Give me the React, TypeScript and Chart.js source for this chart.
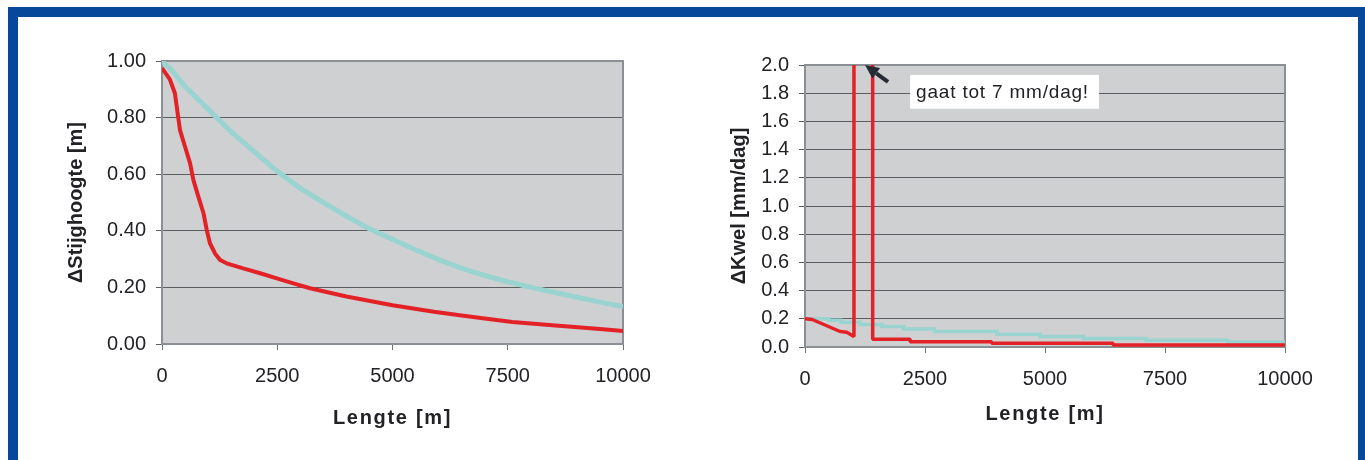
import React, { useEffect, useRef } from "react";
import { Chart, registerables } from "chart.js";

Chart.register(...registerables);

// ---------- data ----------
const xTickValues = [0, 2500, 5000, 7500, 10000];
const leftYTickValues = [0, 0.2, 0.4, 0.6, 0.8, 1.0];
const rightYTickValues = [0, 0.2, 0.4, 0.6, 0.8, 1.0, 1.2, 1.4, 1.6, 1.8, 2.0];

// left chart: ΔStijghoogte [m]
const leftCyanLength = [0, 250, 500, 750, 1000, 1250, 1500, 2000, 2500, 3000, 3500, 4000, 4500, 5000, 5500, 6000, 6500, 7000, 7500, 8000, 8500, 9000, 9500, 10000];
const leftCyanHead = [1.0, 0.96, 0.91, 0.87, 0.83, 0.79, 0.75, 0.68, 0.61, 0.55, 0.5, 0.452, 0.407, 0.37, 0.333, 0.298, 0.267, 0.242, 0.22, 0.2, 0.183, 0.165, 0.148, 0.132];
const leftRedLength = [0, 170, 280, 350, 390, 500, 610, 680, 790, 900, 970, 1040, 1150, 1260, 1400, 1760, 2130, 2490, 2850, 3210, 4000, 5000, 5900, 6500, 7000, 7600, 8400, 9500, 10000];
const leftRedHead = [0.975, 0.935, 0.886, 0.803, 0.756, 0.697, 0.638, 0.58, 0.52, 0.462, 0.403, 0.356, 0.32, 0.297, 0.285, 0.267, 0.25, 0.232, 0.214, 0.197, 0.168, 0.137, 0.114, 0.101, 0.09, 0.078, 0.067, 0.053, 0.046];

// right chart: ΔKwel [mm/dag]
const rightCyanLength = [0, 500, 750, 1150, 1600, 2050, 2700, 4000, 4900, 5800, 7100, 8800, 10000];
const rightCyanFlow = [0.2, 0.19, 0.175, 0.16, 0.145, 0.128, 0.11, 0.09, 0.075, 0.06, 0.047, 0.035, 0.035];
const rightRedLength = [0, 150, 730, 870, 1020, 1020, 1410, 1410, 2190, 2190, 3890, 3890, 6420, 6420, 10000];
const rightRedFlow = [0.2, 0.195, 0.11, 0.105, 0.075, 7, 7, 0.055, 0.055, 0.038, 0.038, 0.026, 0.026, 0.014, 0.014];

// annotation
const noteText = "gaat tot 7 mm/dag!";
const noteBox = { x0: 2190, x1: 6125, y0: 1.69, y1: 1.93 };
const arrowFrom = { x: 1730, y: 1.88 };
const arrowTo = { x: 1250, y: 2.0 };

// ---------- styles ----------
const FONT = '"Liberation Sans", Arial, sans-serif';
const TEXT = "#222226";
const RED = "#e32228";
const CYAN = "#99d4d1";
const PLOT_BG = "#cfd0d2";
const FRAME = "#8a9096";
const GRID = "#5c5e62";
const BLUE = "#08489a";

const pts = (xs: number[], ys: number[]) => xs.map((x, i) => ({ x, y: ys[i] }));

const plotFrame = {
  id: "plotFrame",
  beforeDraw(chart: any) {
    const { ctx, chartArea: a } = chart;
    ctx.letterSpacing = "0px";
    ctx.save();
    ctx.fillStyle = PLOT_BG;
    ctx.fillRect(a.left, a.top, a.right - a.left, a.bottom - a.top);
    ctx.restore();
  },
  beforeDatasetsDraw(chart: any) {
    const { ctx, chartArea: a } = chart;
    ctx.save();
    ctx.strokeStyle = FRAME;
    ctx.lineWidth = 2;
    ctx.strokeRect(a.left, a.top, a.right - a.left, a.bottom - a.top);
    ctx.restore();
  },
  afterDraw(chart: any) {
    chart.ctx.letterSpacing = "0px";
  },
};

const annotation = {
  id: "annotation",
  afterDatasetsDraw(chart: any) {
    const { ctx, scales } = chart;
    const x = scales.x;
    const y = scales.y;
    ctx.save();
    // text box
    const bx0 = x.getPixelForValue(noteBox.x0);
    const bx1 = x.getPixelForValue(noteBox.x1);
    const by0 = y.getPixelForValue(noteBox.y1);
    const by1 = y.getPixelForValue(noteBox.y0);
    ctx.fillStyle = "#ffffff";
    ctx.fillRect(bx0, by0, bx1 - bx0, by1 - by0);
    ctx.letterSpacing = "0.8px";
    ctx.font = `19px ${FONT}`;
    ctx.fillStyle = TEXT;
    ctx.textAlign = "left";
    ctx.textBaseline = "middle";
    ctx.fillText(noteText, bx0 + 6, (by0 + by1) / 2 + 1);
    ctx.letterSpacing = "0px";
    // arrow
    const tx = x.getPixelForValue(arrowTo.x);
    const ty = y.getPixelForValue(arrowTo.y);
    const fx = x.getPixelForValue(arrowFrom.x);
    const fy = y.getPixelForValue(arrowFrom.y);
    const ang = Math.atan2(ty - fy, tx - fx);
    const headLen = 14;
    const headHalf = 6.5;
    const baseX = tx - headLen * Math.cos(ang);
    const baseY = ty - headLen * Math.sin(ang);
    ctx.strokeStyle = "#262b35";
    ctx.fillStyle = "#262b35";
    ctx.lineWidth = 4;
    ctx.beginPath();
    ctx.moveTo(fx, fy);
    ctx.lineTo(baseX, baseY);
    ctx.stroke();
    ctx.beginPath();
    ctx.moveTo(tx, ty);
    ctx.lineTo(baseX + headHalf * Math.sin(ang), baseY - headHalf * Math.cos(ang));
    ctx.lineTo(baseX - headHalf * Math.sin(ang), baseY + headHalf * Math.cos(ang));
    ctx.closePath();
    ctx.fill();
    ctx.restore();
  },
};

function xScale(height: number, titlePadBottom: number) {
  return {
    type: "linear",
    min: 0,
    max: 10000,
    afterBuildTicks: (s: any) => {
      s.ticks = xTickValues.map((v) => ({ value: v }));
    },
    afterFit: (s: any) => {
      s.height = height;
    },
    ticks: {
      padding: 14,
      autoSkip: false,
      maxRotation: 0,
      color: TEXT,
      font: { family: FONT, size: 20 },
      callback: (v: any) => String(v),
    },
    grid: {
      drawOnChartArea: false,
      drawTicks: true,
      tickLength: 6,
      lineWidth: 1,
      color: (c: any) => {
        // wider letter spacing for the horizontal axis title
        c.chart.ctx.letterSpacing = "1.7px";
        return "#6d7277";
      },
    },
    border: { display: false },
    title: {
      display: true,
      text: "Lengte [m]",
      color: TEXT,
      font: { family: FONT, size: 20, weight: "bold" },
      padding: { top: 0, bottom: titlePadBottom },
    },
  };
}

function yScale(max: number, tickValues: number[], digits: number, width: number, titleText: string, titlePadTop: number) {
  return {
    type: "linear",
    min: 0,
    max,
    afterBuildTicks: (s: any) => {
      s.ticks = tickValues.map((v) => ({ value: v }));
    },
    afterFit: (s: any) => {
      s.width = width;
    },
    ticks: {
      padding: 10,
      autoSkip: false,
      color: TEXT,
      font: { family: FONT, size: 20 },
      callback: (v: any) => Number(v).toFixed(digits),
    },
    grid: {
      drawTicks: true,
      tickLength: 6,
      lineWidth: 1,
      color: (c: any) => {
        c.chart.ctx.letterSpacing = "0px";
        return GRID;
      },
    },
    border: { display: false },
    title: {
      display: true,
      text: titleText,
      color: TEXT,
      font: { family: FONT, size: 20, weight: "bold" },
      padding: { top: titlePadTop, bottom: 0 },
    },
  };
}

function baseOptions(padTop: number, padRight: number, scales: any) {
  return {
    responsive: true,
    maintainAspectRatio: false,
    animation: false,
    events: [],
    layout: { autoPadding: false, padding: { top: padTop, right: padRight, bottom: 0, left: 0 } },
    plugins: { legend: { display: false }, tooltip: { enabled: false }, title: { display: false } },
    scales,
  };
}

const leftConfig: any = {
  type: "line",
  data: {
    datasets: [
      { data: pts(leftRedLength, leftRedHead), borderColor: RED, borderWidth: 4, pointRadius: 0, tension: 0, fill: false, borderJoinStyle: "round" },
      { data: pts(leftCyanLength, leftCyanHead), borderColor: CYAN, borderWidth: 5, pointRadius: 0, tension: 0, fill: false, borderJoinStyle: "round" },
    ],
  },
  options: baseOptions(41, 47, {
    x: xScale(106, 20),
    y: yScale(1, leftYTickValues, 2, 142, "ΔStijghoogte [m]", 44),
  }),
  plugins: [plotFrame],
};

const rightConfig: any = {
  type: "line",
  data: {
    datasets: [
      { data: pts(rightRedLength, rightRedFlow), borderColor: RED, borderWidth: 3.5, pointRadius: 0, tension: 0, fill: false, borderJoinStyle: "bevel" },
      { data: pts(rightCyanLength, rightCyanFlow), borderColor: CYAN, borderWidth: 3.5, pointRadius: 0, tension: 0, fill: false, stepped: "before" },
    ],
  },
  options: baseOptions(45, 65, {
    x: xScale(103, 24),
    y: yScale(2, rightYTickValues, 1, 115, "ΔKwel [mm/dag]", 37),
  }),
  plugins: [plotFrame, annotation],
};

function ChartBox({ config, left, top, width, height }: any) {
  const ref = useRef<HTMLCanvasElement>(null);
  useEffect(() => {
    const chart = new Chart(ref.current as HTMLCanvasElement, config);
    return () => chart.destroy();
  }, [config]);
  return (
    <div style={{ position: "fixed", left, top, width, height }}>
      <canvas ref={ref} />
    </div>
  );
}

export default function App() {
  useEffect(() => {
    document.body.style.overflow = "hidden";
  }, []);
  return (
    <div>
      <div
        style={{
          position: "fixed",
          left: 8,
          top: 7,
          width: 1340,
          height: 443,
          borderTop: `10px solid ${BLUE}`,
          borderLeft: `10px solid ${BLUE}`,
          borderRight: `7px solid ${BLUE}`,
          background: "#ffffff",
        }}
      />
      <ChartBox config={leftConfig} left={20} top={20} width={650} height={430} />
      <ChartBox config={rightConfig} left={690} top={20} width={660} height={430} />
    </div>
  );
}
